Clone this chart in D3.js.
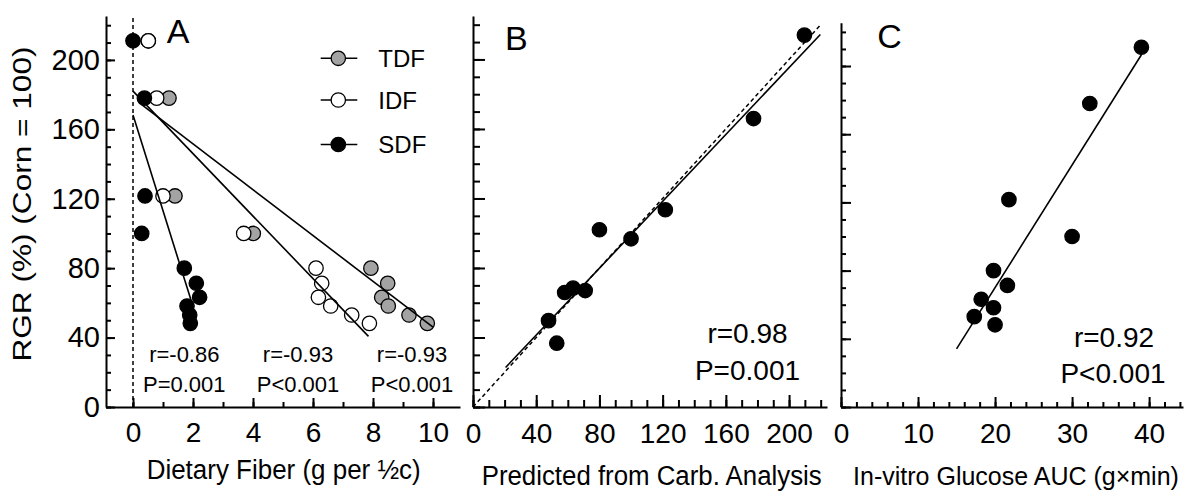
<!DOCTYPE html>
<html>
<head>
<meta charset="utf-8">
<script src="https://cdn.jsdelivr.net/npm/d3@7"></script>
<style>
	body { margin: 0; background: #fff; }
	svg { display: block; font-family: 'Liberation Sans', Arial, sans-serif; }
	.axis path, .axis line { stroke: #000; stroke-width: 2; }
	.axis text { font-family: 'Liberation Sans', Arial, sans-serif; fill: #000; }
</style>
</head>
<body>
<main></main>
<script>
// RGR (%) of each food, same order in every array
const rgr = [211, 178, 121.6, 100, 80, 71.3, 63.2, 58.2, 53, 48.2]
const tdf = [0.51, 1.2, 1.4, 4.01, 7.93, 8.49, 8.29, 8.51, 9.2, 9.81]
const idf = [0.51, 0.79, 1.0, 3.69, 6.1, 6.29, 6.18, 6.59, 7.29, 7.88]
const sdf = [0, 0.38, 0.4, 0.29, 1.71, 2.11, 2.22, 1.8, 1.89, 1.91]

// panel B
const predicted = [209.7, 177.5, 121.7, 80, 100, 58, 63.3, 71, 47.8, 53]
const rgrB = [214, 166, 113.5, 102, 96.8, 65.9, 68.4, 67, 49.7, 36.7]

// panel C
const glucoseAuc = [39.0, 32.3, 21.8, 30.0, 19.8, 21.6, 18.2, 19.8, 17.3, 20.0]

// fitted lines: [xStart, xEnd, intercept, slope]
const fitTdf = [0.3, 10.0, 178, -13.2]
const fitIdf = [0, 7.85, 182, -18.0]
const fitSdf = [0, 2.0, 168.3, -55.2]
const fitB = [20.6, 219.8, 2.9, 0.962]
const fitC = [15.0, 39.0, -73.8, 7.19]

const statsA = [['r=-0.86', 'P=0.001'], ['r=-0.93', 'P<0.001'], ['r=-0.93', 'P<0.001']]
const statsB = ['r=0.98', 'P=0.001']
const statsC = ['r=0.92', 'P<0.001']
const legendLabels = ['TDF', 'IDF', 'SDF']
const fills = { TDF: '#a3a3a3', IDF: '#ffffff', SDF: '#000000' }

const width = 1188
const height = 494
const font = 'Liberation Sans, Arial, sans-serif'

const svg = d3.select('main')
	.append('svg')
	.attr('width', width)
	.attr('height', height)

// draws inward ticks: minor ones without text, major ones with labels
function axes(x, y, o) {
	const x0 = x.range()[0]
	const y0 = y.range()[0]
	const gx = svg.append('g').attr('class', 'axis').attr('transform', `translate(0,${y0})`)
	gx.append('g')
		.call(d3.axisBottom(x).tickValues(o.xMinor).tickSize(-o.minor).tickSizeOuter(0).tickFormat(''))
	gx.append('g')
		.call(d3.axisBottom(x).tickValues(o.xMajor).tickSize(-o.major).tickPadding(o.xPad).tickFormat(d3.format('d')))
		.call(g => g.select('.domain').remove())
		.selectAll('text').style('font-size', o.xFont + 'px')

	const gy = svg.append('g').attr('class', 'axis').attr('transform', `translate(${x0},0)`)
	gy.append('g')
		.call(d3.axisLeft(y).tickValues(o.yMinor).tickSize(-o.minor).tickSizeOuter(0).tickFormat(''))
	gy.append('g')
		.call(d3.axisLeft(y).tickValues(o.yMajor).tickSize(-o.major).tickPadding(6)
			.tickFormat(o.yLabels ? d3.format('d') : ''))
		.call(g => g.select('.domain').remove())
		.selectAll('text').style('font-size', '29px')
}

function fitLine(x, y, f) {
	const pts = [f[0], f[1]].map(v => [v, f[2] + f[3] * v])
	svg.append('path')
		.attr('d', d3.line().x(d => x(d[0])).y(d => y(d[1]))(pts))
		.attr('fill', 'none')
		.attr('stroke', '#000')
		.attr('stroke-width', 1.6)
}

function dots(x, y, xs, ys, fill) {
	svg.append('g')
		.selectAll('circle')
		.data(xs.map((v, i) => [v, ys[i]]))
		.enter()
		.append('circle')
		.attr('cx', d => x(d[0]))
		.attr('cy', d => y(d[1]))
		.attr('r', 7.2)
		.attr('fill', fill)
		.attr('stroke', '#000')
		.attr('stroke-width', 1.3)
}

function label(txt, px, py, size, anchor, len) {
	const t = svg.append('text')
		.attr('x', px)
		.attr('y', py)
		.attr('font-size', size)
		.attr('font-family', font)
		.attr('text-anchor', anchor)
		.text(txt)
	if (len) t.attr('textLength', len).attr('lengthAdjust', 'spacingAndGlyphs')
	return t
}

// ---------- Panel A ----------
const xA = d3.scaleLinear().domain([-0.9, 10.9]).range([106, 460])
const yA = d3.scaleLinear().domain([0, 225.3]).range([407, 16])

svg.append('line')
	.attr('x1', xA(0)).attr('x2', xA(0))
	.attr('y1', yA(0)).attr('y2', yA(225.3))
	.attr('stroke', '#000')
	.attr('stroke-width', 1.5)
	.attr('stroke-dasharray', '4,3')

axes(xA, yA, {
	xMinor: d3.range(0, 11, 1), xMajor: d3.range(0, 11, 2),
	yMinor: d3.range(0, 221, 10), yMajor: d3.range(0, 201, 40),
	minor: 5, major: 9, xPad: 15, xFont: 28, yLabels: true
})

dots(xA, yA, tdf, rgr, fills.TDF)
dots(xA, yA, idf, rgr, fills.IDF)
dots(xA, yA, sdf, rgr, fills.SDF)
fitLine(xA, yA, fitSdf)
fitLine(xA, yA, fitIdf)
fitLine(xA, yA, fitTdf)

const statX = [1.71, 5.5, 9.3]
statsA.forEach((s, i) => {
	label(s[0], xA(statX[i]), yA(26.1), 22, 'middle')
	label(s[1], xA(statX[i]), yA(8.8), 22, 'middle')
})

// legend
legendLabels.forEach((k, i) => {
	const ly = [58.3, 100, 144.5][i]
	svg.append('line')
		.attr('x1', 320.7).attr('x2', 357.3)
		.attr('y1', ly).attr('y2', ly)
		.attr('stroke', '#000').attr('stroke-width', 1.6)
	svg.append('circle')
		.attr('cx', 338.3).attr('cy', ly).attr('r', 7.2)
		.attr('fill', fills[k]).attr('stroke', '#000').attr('stroke-width', 1.3)
	label(k, 378.3, ly + 8.5, 24, 'start')
})

label('A', 166.7, 42.7, 34, 'start')
label('Dietary Fiber (g per ½c)', 283.7, 479.3, 27, 'middle', 274)
label('RGR (%) (Corn = 100)', 0, 0, 26, 'middle', 315)
	.attr('transform', 'translate(31,204) rotate(-90)')

// ---------- Panel B ----------
const xB = d3.scaleLinear().domain([0, 224]).range([473, 827])
const yB = d3.scaleLinear().domain([0, 225]).range([407, 16])

svg.append('path')
	.attr('d', d3.line().x(d => xB(d)).y(d => yB(d))([0, 220]))
	.attr('stroke', '#000')
	.attr('stroke-width', 1.5)
	.attr('stroke-dasharray', '4,3')

axes(xB, yB, {
	xMinor: d3.range(0, 221, 10), xMajor: d3.range(0, 201, 40),
	yMinor: d3.range(0, 221, 10), yMajor: d3.range(0, 201, 40),
	minor: 7, major: 12, xPad: 16, xFont: 28, yLabels: false
})

dots(xB, yB, predicted, rgrB, '#000')
fitLine(xB, yB, fitB)

label(statsB[0], 747.5, 343.3, 28, 'middle')
label(statsB[1], 747.5, 380, 28, 'middle')
label('B', 505, 50, 34, 'start')
label('Predicted from Carb. Analysis', 651.7, 485, 27, 'middle', 340)

// ---------- Panel C ----------
const xC = d3.scaleLinear().domain([0, 44.4]).range([841, 1183])
const yC = d3.scaleLinear().domain([0, 225.4]).range([407, 22.7])

axes(xC, yC, {
	xMinor: d3.range(0, 45, 2), xMajor: d3.range(0, 41, 10),
	yMinor: d3.range(0, 221, 10), yMajor: d3.range(0, 201, 40),
	minor: 5, major: 10, xPad: 16, xFont: 28, yLabels: false
})

dots(xC, yC, glucoseAuc, rgr, '#000')
fitLine(xC, yC, fitC)

label(statsC[0], 1114, 347.3, 28, 'middle')
label(statsC[1], 1113, 382.7, 28, 'middle')
label('C', 877.3, 48.3, 34, 'start')
label('In-vitro Glucose AUC (g×min)', 1016, 485, 25, 'middle')
</script>
</body>
</html>
